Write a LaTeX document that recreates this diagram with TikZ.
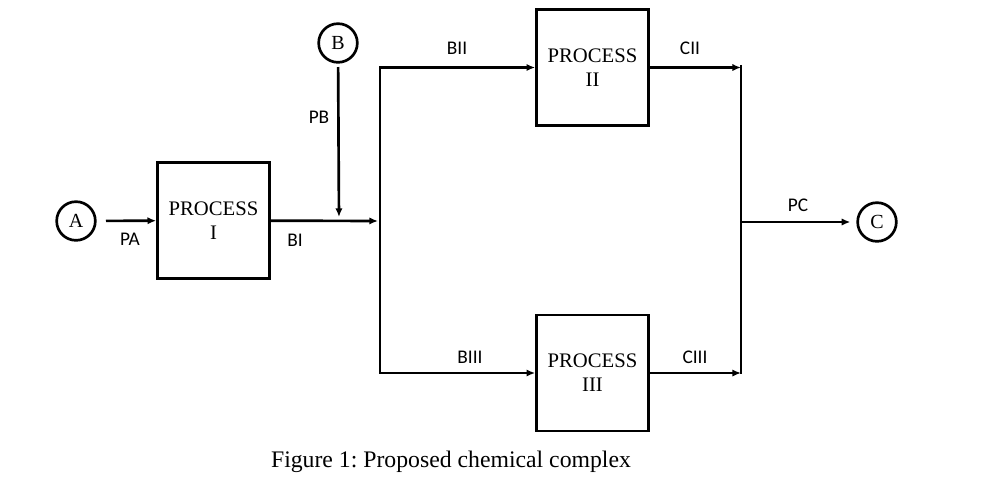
\documentclass[tikz,border=0pt]{standalone}
\usepackage{fontspec}
\setmainfont{Liberation Serif}
\newfontfamily\calibrifont{Carlito}
\usetikzlibrary{arrows.meta}
\frenchspacing

\tikzset{every picture/.style={line width=2pt}}
\tikzset{
  procbox/.style={draw, minimum width=84pt, minimum height=87pt, inner sep=0pt,
    align=center, font=\fontsize{15.5}{18}\selectfont},
  stream/.style={draw, circle, minimum size=29pt, inner sep=0pt,
    font=\fontsize{15}{16}\selectfont},
  flowlabel/.style={font=\calibrifont\fontsize{14.5}{16}\selectfont},
  flow/.style={-{Latex[length=6.5pt,width=5.5pt]}},
}

\begin{document}
\begin{tikzpicture}[x=0.75pt,y=0.75pt,yscale=-1,xscale=1]
\useasboundingbox (0,0) rectangle (983,490);

%Shape: Circles
\node[stream] (a) at (76,221) {A};
\node[stream] (b) at (338,43) {B};
\node[stream] (c) at (877,222) {C};

%Shape: Rectangles
\node[procbox] (p1) at (213.5,220.5) {PROCESS\\I};
\node[procbox] (p2) at (592.5,67.5) {PROCESS\\II};
\node[procbox] (p3) at (592.5,373) {PROCESS\\III};

%Junctions
\coordinate (mix) at (339,221);
\coordinate (bus) at (380,221);
\coordinate (bustop) at (bus |- p2);
\coordinate (busbot) at (bus |- p3);
\coordinate (cmix) at (741,222);
\coordinate (ctop) at (cmix |- p2);
\coordinate (cbot) at (cmix |- p3);

%Straight Lines
\draw[flow, shorten <=7pt] (a) -- (p1);
\draw[flow, shorten <=2.5pt, shorten >=3pt] (b) -- (mix);
\draw[flow, shorten >=1.5pt] (p1) -- (bus);
\draw[line cap=rect] (bustop) -- (busbot);
\draw[flow] (bustop) -- (p2);
\draw[flow] (busbot) -- (p3);
\draw[flow] (p2) -- (ctop);
\draw[flow] (p3) -- (cbot);
\draw ([yshift=-2pt]ctop) -- ([yshift=1pt]cbot);
\draw[flow, shorten >=4.5pt] (cmix) -- (c);

% Text Node
\node[flowlabel] (pa) at (130,239) {PA};
\node[flowlabel] (bi) at (295,240) {BI};
\node[flowlabel] (pb) at (319,117) {PB};
\node[flowlabel] (bii) at (457,48) {BII};
\node[flowlabel] (cii) at (690,48) {CII};
\node[flowlabel] (biii) at (470,357) {BIII};
\node[flowlabel] (ciii) at (695,357) {CIII};
\node[flowlabel] (pc) at (798,205) {PC};

% Caption
\node[font=\fontsize{17.8}{20}\selectfont] (cap) at (451,462) {Figure 1: Proposed chemical complex};

\end{tikzpicture}
\end{document}
